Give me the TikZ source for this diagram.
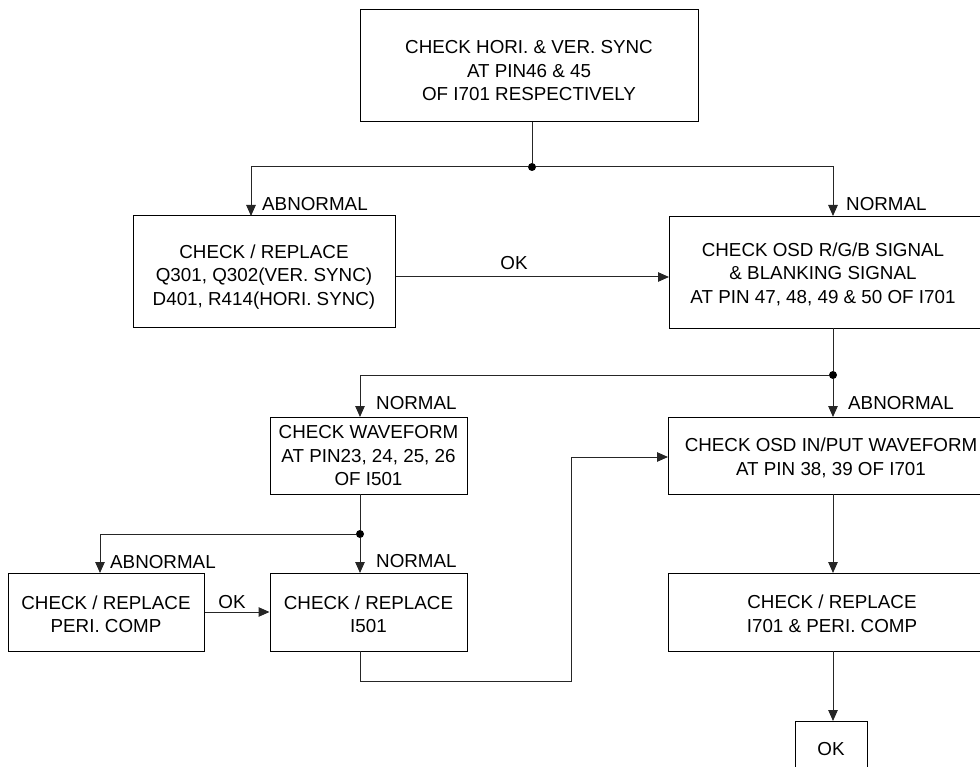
\documentclass[tikz,border=0pt]{standalone}
\usepackage{fontspec}
\setmainfont{Liberation Sans}
\usetikzlibrary{arrows.meta}
\begin{document}
\begin{tikzpicture}[x=1pt,y=-1pt,
  every node/.style={font=\fontsize{18.8}{23.5}\selectfont},
  boxnode/.style={draw, line width=1pt, inner sep=0pt, align=center},
  txt/.style={inner sep=0pt, align=center},
  lbl/.style={inner sep=0pt, anchor=west},
  conn/.style={line width=1pt, draw=black!85},
  arr/.style={conn, -{Triangle[length=11pt,width=9.5pt]}},
  jdot/.style={circle, fill, inner sep=0pt, minimum size=8pt}]
\useasboundingbox (0,0) rectangle (980,767);
\clip (0,0) rectangle (980,767);

% boxes (frames) and their texts
\node[boxnode, minimum width=338pt, minimum height=112pt] (b1) at (529,66) {};
\node[txt] (b1t) at (529,71) {CHECK HORI. \& VER. SYNC\\AT PIN46 \& 45\\OF I701 RESPECTIVELY};
\node[boxnode, minimum width=262pt, minimum height=112pt] (b2) at (264,272) {};
\node[txt] (b2t) at (264,277) {CHECK / REPLACE\\Q301, Q302(VER. SYNC)\\D401, R414(HORI. SYNC)};
\node[boxnode, minimum width=340pt, minimum height=112pt, anchor=north west] (b3) at (669,216) {};
\node[txt] (b3t) at (823,274) {CHECK OSD R/G/B SIGNAL\\\& BLANKING SIGNAL\\AT PIN 47, 48, 49 \& 50 OF I701};
\node[boxnode, minimum width=197pt, minimum height=77pt] (b4) at (368.5,455.5) {};
\node[txt] (b4t) at (368.5,456) {CHECK WAVEFORM\\AT PIN23, 24, 25, 26\\OF I501};
\node[boxnode, minimum width=340pt, minimum height=77pt, anchor=north west] (b5) at (668,417) {};
\node[txt] (b5t) at (831,458) {CHECK OSD IN/PUT WAVEFORM\\AT PIN 38, 39 OF I701};
\node[boxnode, minimum width=196pt, minimum height=78pt] (bP) at (106,612) {};
\node[txt] (bPt) at (106,614.5) {CHECK / REPLACE\\PERI. COMP};
\node[boxnode, minimum width=197pt, minimum height=78pt] (b6) at (368.5,612) {};
\node[txt] (b6t) at (368.5,614.5) {CHECK / REPLACE\\I501};
\node[boxnode, minimum width=340pt, minimum height=78pt, anchor=north west] (b7) at (668,573) {};
\node[txt] (b7t) at (832,614) {CHECK / REPLACE\\I701 \& PERI. COMP};
\node[boxnode, minimum width=72pt, minimum height=56pt] (bOK) at (831,749) {OK};

% junctions and connection points
\node[jdot] (j1) at (532,167) {};
\node[jdot] (j2) at (833,375) {};
\node[jdot] (j3) at (360,534) {};
\coordinate (a2) at (251,216);
\coordinate (a3) at (833,216);
\coordinate (s3) at (833,328);
\coordinate (a4) at (360,417);
\coordinate (a5) at (833,417);
\coordinate (s4) at (360,494);
\coordinate (aP) at (100,573);
\coordinate (a6) at (360,573);
\coordinate (s6) at (360,651);
\coordinate (r)  at (571,681);
\coordinate (i5) at (668,457);
\coordinate (s5) at (833,494);
\coordinate (a7) at (833,573);
\coordinate (s7) at (833,651);
\coordinate (aOK) at (833,721);

% connectors
\draw[conn] (b1.south -| j1) -- (j1);
\draw[arr] (j1) -| (a2);
\draw[arr] (j1) -| (a3);
\draw[arr] ([yshift=-5pt]b2.east) -- ([yshift=-5pt]b2.east -| b3.west);
\draw[conn] (s3) -- (j2);
\draw[arr] (j2) -| (a4);
\draw[arr] (j2) -- (a5);
\draw[conn] (s4) -- (j3);
\draw[arr] (j3) -| (aP);
\draw[arr] (j3) -- (a6);
\draw[arr] (bP.east) -- (b6.west);
\draw[arr] (s6) |- (r) |- (i5);
\draw[arr] (s5) -- (a7);
\draw[arr] (s7) -- (aOK);

% labels
\node[lbl] (l1) at (262,204) {ABNORMAL};
\node[lbl] (l2) at (846,204) {NORMAL};
\node[inner sep=0pt] (l3) at (514,263) {OK};
\node[lbl] (l4) at (376,403) {NORMAL};
\node[lbl] (l5) at (848,403) {ABNORMAL};
\node[lbl] (l6) at (110,562) {ABNORMAL};
\node[lbl] (l7) at (376,561) {NORMAL};
\node[inner sep=0pt] (l8) at (232,602) {OK};
\end{tikzpicture}
\end{document}
